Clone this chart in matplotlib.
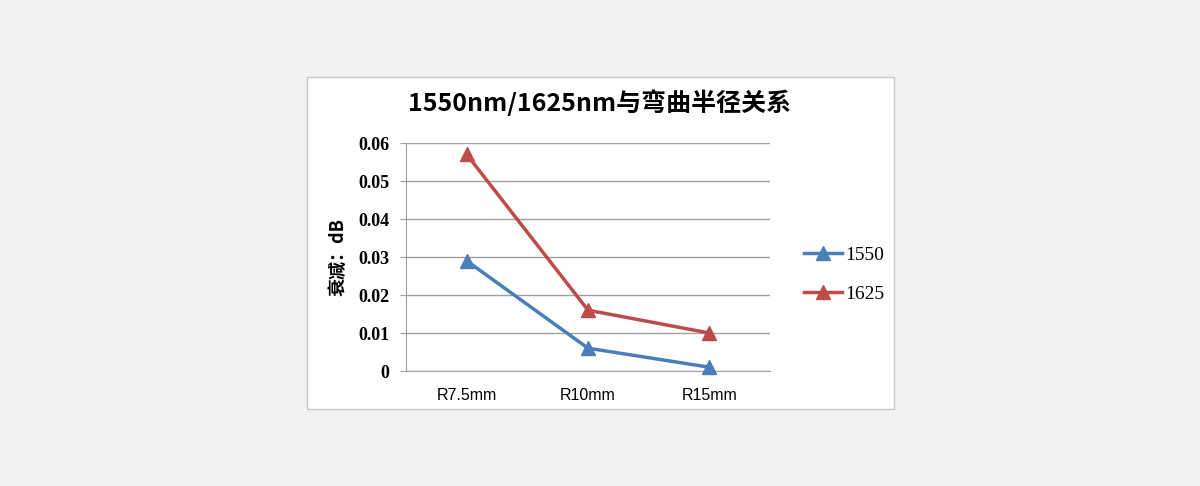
import matplotlib
matplotlib.use("Agg")
import matplotlib.pyplot as plt
from matplotlib.patches import Rectangle
from matplotlib.lines import Line2D

# données
categories = ["R7.5mm", "R10mm", "R15mm"]
serie_1550 = [0.029, 0.006, 0.001]
serie_1625 = [0.057, 0.016, 0.010]
yticks = [0, 0.01, 0.02, 0.03, 0.04, 0.05, 0.06]
ytick_labels = ["0", "0.01", "0.02", "0.03", "0.04", "0.05", "0.06"]

BLUE = "#4a7ebb"
RED = "#be4b48"
CJK = ["Noto Sans CJK SC", "DejaVu Sans"]
SERIF = ["Liberation Serif", "DejaVu Serif"]

fig = plt.figure(figsize=(12, 4.86), dpi=100)
fig.patch.set_facecolor("#f2f2f2")

# cadre blanc du graphique (zorder negatif pour rester sous les axes)
fig.patches.append(Rectangle((307 / 1200, 1 - 409 / 486), 587 / 1200, 332 / 486,
                             transform=fig.transFigure, facecolor="white",
                             edgecolor="#c8c8c8", linewidth=1.0, zorder=-5))

ax = fig.add_axes([406 / 1200, 1 - 371 / 486, 364 / 1200, 228 / 486])
ax.set_facecolor("none")

x = range(len(categories))
ax.plot(x, serie_1550, color=BLUE, linewidth=2.5, marker="^", markersize=10.5,
        label="1550", zorder=3, clip_on=False)
ax.plot(x, serie_1625, color=RED, linewidth=2.5, marker="^", markersize=10.5,
        label="1625", zorder=3, clip_on=False)

ax.set_xlim(-0.5, len(categories) - 0.5)
ax.set_ylim(0, 0.06)
ax.set_yticks(yticks)
ax.set_yticklabels(ytick_labels, fontfamily=SERIF, fontweight="bold", fontsize=13)
ax.set_xticks(list(x))
ax.set_xticklabels(categories, fontfamily=["Liberation Sans", "DejaVu Sans"], fontsize=11.5)
ax.tick_params(axis="x", length=0, pad=12)
ax.tick_params(axis="y", length=4, color="#a0a0a0", pad=8)
ax.grid(axis="y", color="#a0a0a0", linewidth=1.0)
ax.set_axisbelow(True)
for s in ["top", "right"]:
    ax.spines[s].set_visible(False)
ax.spines["left"].set_color("#a0a0a0")
ax.spines["bottom"].set_color("#a0a0a0")

ax.set_ylabel("衰减：dB", fontfamily=CJK, fontweight="bold", fontsize=13, labelpad=8)

fig.text(600 / 1200, 1 - 103 / 486, "1550nm/1625nm与弯曲半径关系",
         ha="center", va="center", fontfamily=CJK, fontweight="bold", fontsize=18)

handles = [Line2D([], [], color=BLUE, linewidth=2.5, marker="^", markersize=10),
           Line2D([], [], color=RED, linewidth=2.5, marker="^", markersize=10)]
leg = fig.legend(handles, ["1550", "1625"], loc="upper left",
                 bbox_to_anchor=(786 / 1200, 1 - 229 / 486), frameon=False,
                 prop={"family": SERIF, "size": 14}, handlelength=2.0,
                 handletextpad=0.15, labelspacing=1.1)

fig.savefig("out.png", dpi=100, facecolor=fig.get_facecolor())
